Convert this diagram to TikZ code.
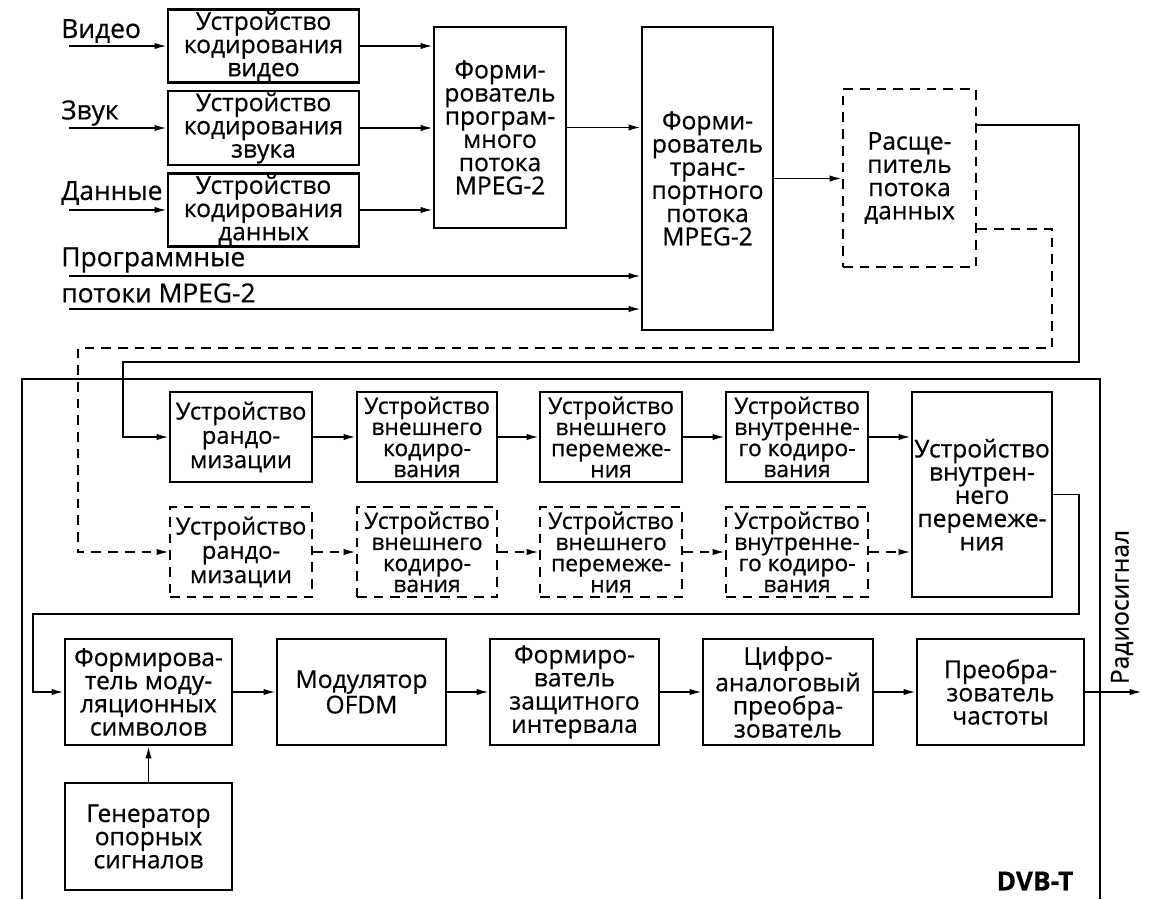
\documentclass[tikz,border=0pt]{standalone}
\usepackage{fontspec}
\setmainfont{Open Sans}[FakeBold=0.6]
\usetikzlibrary{arrows.meta, positioning, calc}

\begin{document}
\begin{tikzpicture}[x=0.02cm, y=-0.02cm,
    blk/.style={draw, line width=1.3pt, align=center, inner sep=1pt,
        font=\fontsize{14}{13.2}\selectfont},
    rblk/.style={blk, font=\fontsize{13.5}{13.8}\selectfont},
    tblk/.style={blk, font=\fontsize{13}{12}\selectfont},
    dblk/.style={dash pattern=on 5.5pt off 4pt},
    arr/.style={-{Latex[length=7pt, width=3.6pt]}, line width=1pt},
    darr/.style={arr, dash pattern=on 5.5pt off 4pt},
    lbl/.style={anchor=west, inner sep=0pt, font=\fontsize{15}{14}\selectfont}]
    \useasboundingbox (0,0) rectangle (1151,899);

    % inputs and coders
    \node[blk, minimum width=3.82cm, minimum height=1.44cm] (vid) at (263.5,46) {Устройство\\кодирования\\видео};
    \node[blk, minimum width=3.82cm, minimum height=1.40cm] (snd) at (263.5,128) {Устройство\\кодирования\\звука};
    \node[blk, minimum width=3.82cm, minimum height=1.40cm] (dat) at (263.5,210) {Устройство\\кодирования\\данных};
    \node[blk, minimum width=2.64cm, minimum height=4.02cm] (prog) at (500,127.5) {Форми-\\рователь\\програм-\\много\\потока\\MPEG-2};
    \node[blk, minimum width=2.62cm, minimum height=6.06cm] (trans) at (707.5,178.5) {Форми-\\рователь\\транс-\\портного\\потока\\MPEG-2};
    \node[blk, dblk, minimum width=2.66cm, minimum height=3.56cm] (split) at (909.5,178) {Расще-\\питель\\потока\\данных};

    \node[lbl] (lvid) at (61,31) {Видео};
    \node[lbl] (lsnd) at (61,113) {Звук};
    \node[lbl] (ldat) at (61,193) {Данные};
    \node[lbl] (lprg1) at (61,260) {Программные};
    \node[lbl] (lprg2) at (61,293) {потоки MPEG-2};

    \coordinate (ivid) at (69,46);
    \coordinate (isnd) at (69,128);
    \coordinate (idat) at (69,210);
    \coordinate (iprg1) at (69,276);
    \coordinate (iprg2) at (69,309);

    \draw[arr] (ivid) -- (vid);
    \draw[arr] (isnd) -- (snd);
    \draw[arr] (idat) -- (dat);
    \draw[arr] (vid) -- (vid -| prog.west);
    \draw[arr] (snd) -- (snd -| prog.west);
    \draw[arr] (dat) -- (dat -| prog.west);
    \draw[arr] (prog) -- (prog -| trans.west);
    \draw[arr] (iprg1) -- (iprg1 -| trans.west);
    \draw[arr] (iprg2) -- (iprg2 -| trans.west);
    \draw[arr] (trans) -- (trans -| split.west);

    % DVB-T frame
    \draw[line width=1.1pt] (22,899) -- (22,379) -- (1100,379) -- (1100,899);

    % channel coding, two streams
    \node[rblk, minimum width=2.84cm, minimum height=1.80cm] (A1) at (241,437) {Устройство\\рандо-\\мизации};
    \node[tblk, minimum width=2.80cm, minimum height=1.80cm] (A2) at (427,437) {Устройство\\внешнего\\кодиро-\\вания};
    \node[tblk, minimum width=2.84cm, minimum height=1.80cm] (A3) at (611,437) {Устройство\\внешнего\\перемеже-\\ния};
    \node[tblk, minimum width=2.84cm, minimum height=1.80cm] (A4) at (797,437) {Устройство\\внутренне-\\го кодиро-\\вания};
    \node[rblk, dblk, minimum width=2.84cm, minimum height=1.80cm] (B1) at (241,552) {Устройство\\рандо-\\мизации};
    \node[tblk, dblk, minimum width=2.80cm, minimum height=1.80cm] (B2) at (427,552) {Устройство\\внешнего\\кодиро-\\вания};
    \node[tblk, dblk, minimum width=2.84cm, minimum height=1.80cm] (B3) at (611,552) {Устройство\\внешнего\\перемеже-\\ния};
    \node[tblk, dblk, minimum width=2.84cm, minimum height=1.80cm] (B4) at (797,552) {Устройство\\внутренне-\\го кодиро-\\вания};
    \node[blk, minimum width=2.80cm, minimum height=4.10cm] (inter) at (982,494.5) {Устройство\\внутрен-\\него\\перемеже-\\ния};

    \coordinate (sa) at (1079,125);
    \coordinate (sb) at (123,362);
    \coordinate (da) at (1052,229);
    \coordinate (db) at (78,348);
    \draw[arr] (split.east |- sa) -- (sa) |- (sb) |- (A1.west);
    \draw[darr] (split.east |- da) -- (da) |- (db) |- (B1.west);

    \draw[arr] (A1) -- (A2);
    \draw[arr] (A2) -- (A3);
    \draw[arr] (A3) -- (A4);
    \draw[arr] (A4) -- (A4 -| inter.west);
    \draw[darr] (B1) -- (B2);
    \draw[darr] (B2) -- (B3);
    \draw[darr] (B3) -- (B4);
    \draw[darr] (B4) -- (B4 -| inter.west);

    % modulation chain
    \node[blk, minimum width=3.34cm, minimum height=2.12cm] (C1) at (148.5,692) {Формирова-\\тель моду-\\ляционных\\символов};
    \node[blk, minimum width=3.38cm, minimum height=2.12cm] (C2) at (361.5,692) {Модулятор\\OFDM};
    \node[blk, minimum width=3.38cm, minimum height=2.12cm] (C3) at (574.5,692) {Формиро-\\ватель\\защитного\\интервала};
    \node[blk, minimum width=3.40cm, minimum height=2.12cm] (C4) at (788,692) {Цифро-\\аналоговый\\преобра-\\зователь};
    \node[blk, minimum width=3.34cm, minimum height=2.12cm] (C5) at (1000.5,692) {Преобра-\\зователь\\частоты};
    \node[blk, minimum width=3.34cm, minimum height=2.14cm] (gen) at (148.5,836.5) {Генератор\\опорных\\сигналов};

    \coordinate (ia) at (1079,494.5);
    \coordinate (ib) at (33,614);
    \draw[arr] (inter.east) -- (ia) |- (ib) |- (C1.west);

    \draw[arr] (C1) -- (C2);
    \draw[arr] (C2) -- (C3);
    \draw[arr] (C3) -- (C4);
    \draw[arr] (C4) -- (C5);
    \draw[arr] (gen) -- (C1);

    \coordinate (rout) at (1142,692);
    \draw[arr] (C5) -- (rout);
    \node[rotate=90, inner sep=0pt, font=\fontsize{14}{13}\selectfont] (lrad) at (1122,607) {Радиосигнал};
    \node[inner sep=0pt, font=\bfseries\fontsize{15}{14}\selectfont] (ldvb) at (1035,881) {DVB-T};
\end{tikzpicture}
\end{document}
